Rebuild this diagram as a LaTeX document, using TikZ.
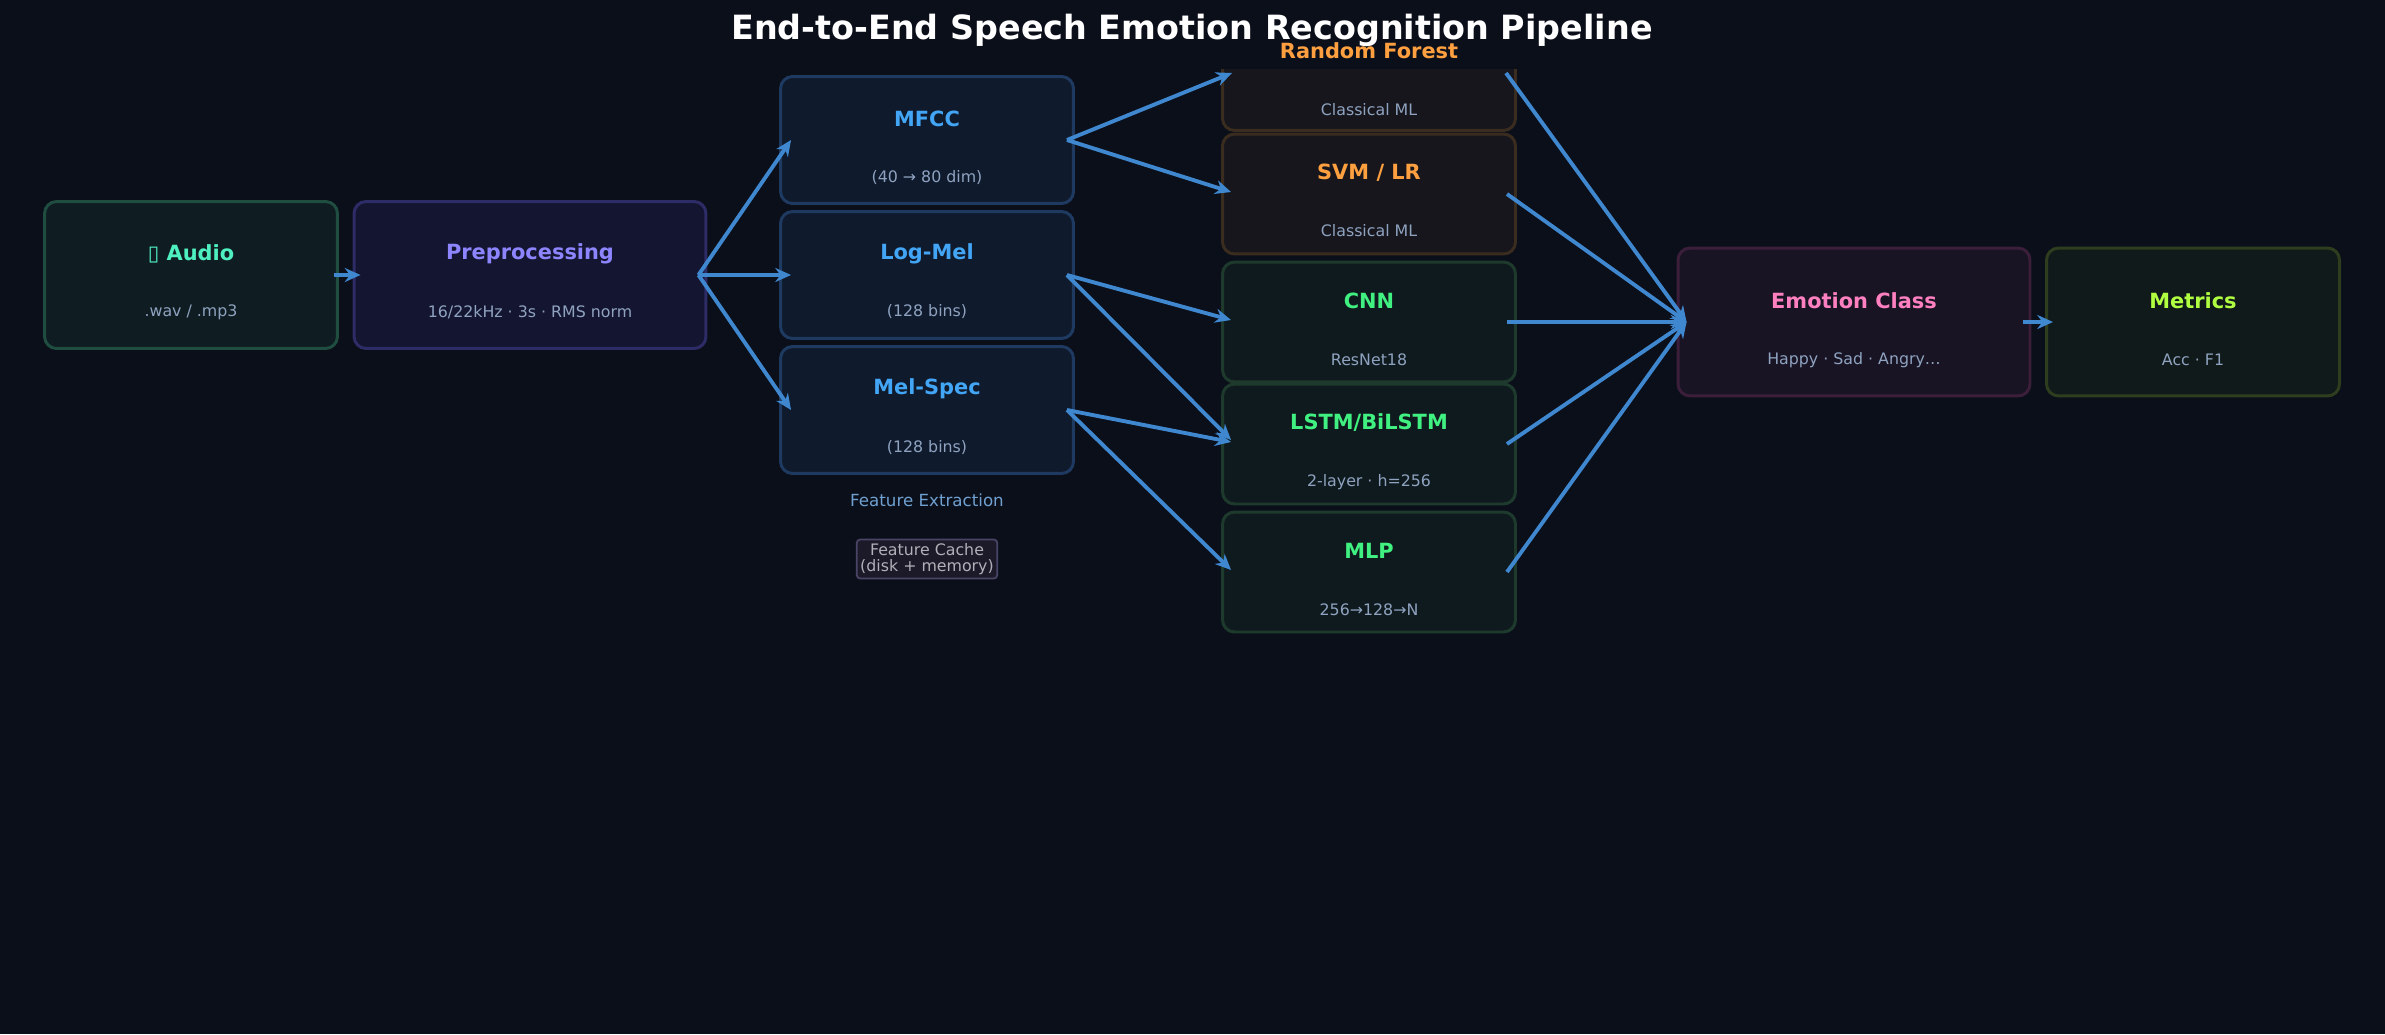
\documentclass[tikz,border=0pt]{standalone}
\usepackage{fontspec}
\setmainfont{DejaVu Sans}
\usetikzlibrary{calc,arrows.meta}
\definecolor{bg}{HTML}{0B0F1A}
\definecolor{subc}{HTML}{8FA3C0}
\definecolor{arr}{HTML}{3F88D0}
\definecolor{feT}{HTML}{6FA0D0}
\definecolor{kF}{HTML}{1C1A28}\definecolor{kD}{HTML}{4A4466}\definecolor{kT}{HTML}{B0B0B8}
\definecolor{aF}{HTML}{0F1C22}\definecolor{aD}{HTML}{1F4D40}\definecolor{aT}{HTML}{4FF0C0}
\definecolor{pF}{HTML}{141530}\definecolor{pD}{HTML}{2E2C66}\definecolor{pT}{HTML}{8C85FF}
\definecolor{fF}{HTML}{0F1A2C}\definecolor{fD}{HTML}{1F3A60}\definecolor{fT}{HTML}{42A5F5}
\definecolor{cF}{HTML}{16161C}\definecolor{cD}{HTML}{3A2C1E}\definecolor{cT}{HTML}{FFA040}
\definecolor{dF}{HTML}{0F1A1E}\definecolor{dD}{HTML}{1E3A2C}\definecolor{dT}{HTML}{40F080}
\definecolor{eF}{HTML}{181424}\definecolor{eD}{HTML}{3A1E3A}\definecolor{eT}{HTML}{FF80C0}
\definecolor{mF}{HTML}{111A1A}\definecolor{mD}{HTML}{2E3D1E}\definecolor{mT}{HTML}{B0FF40}
\tikzset{
  box/.style={draw, line width=1.7pt, rounded corners=0.24cm, inner sep=0pt},
  wbox/.style={box, minimum width=5.86cm, minimum height=2.94cm},
  fbox/.style={box, minimum width=5.86cm, minimum height=2.54cm},
  mbox/.style={box, minimum width=5.86cm, minimum height=2.4cm},
  ttl/.style={font=\bfseries\fontsize{11.9}{14}\selectfont},
  sub/.style={text=subc, font=\fontsize{9}{11}\selectfont},
  link/.style={draw=arr, line width=2.2pt, -{Stealth[length=9pt,width=8pt]}},
}
\begin{document}
\begin{tikzpicture}[x=0.02cm,y=-0.02cm]
\fill[bg] (0,0) rectangle (2385,1034);
\useasboundingbox (0,0) rectangle (2385,1034);
% input
\node[wbox, fill=aF, draw=aD] (audio) at (191,275) {};
\node[ttl, text=aT] at (191,254) {▯ Audio};
\node[sub] at (191,312) {.wav / .mp3};
\node[box, fill=pF, draw=pD, minimum width=7.04cm, minimum height=2.94cm] (pre) at (530,275) {};
\node[ttl, text=pT] at (530,254) {Preprocessing};
\node[sub] at (530,312) {16/22kHz · 3s · RMS norm};
% features
\node[fbox, fill=fF, draw=fD] (mfcc) at (927,140) {};
\node[ttl, text=fT] at (927,119) {MFCC};
\node[sub] at (927,178) {(40 → 80 dim)};
\node[fbox, fill=fF, draw=fD] (logmel) at (927,275) {};
\node[ttl, text=fT] at (927,254) {Log-Mel};
\node[sub] at (927,312) {(128 bins)};
\node[fbox, fill=fF, draw=fD] (melspec) at (927,410) {};
\node[ttl, text=fT] at (927,389) {Mel-Spec};
\node[sub] at (927,448) {(128 bins)};
\node[text=feT, font=\fontsize{9.5}{11}\selectfont] (fe) at (927,500) {Feature Extraction};
\node[draw=kD, fill=kF, line width=1pt, rounded corners=2pt, text=kT, align=center,
  inner sep=2pt, font=\fontsize{9}{9.5}\selectfont] (cache) at (927,559) {Feature Cache\\(disk + memory)};
% models
\begin{scope}
\clip (1200,70) rectangle (1540,140);
\node[box, fill=cF, draw=cD, minimum width=5.86cm, minimum height=2.42cm] (rf) at (1369,70) {};
\end{scope}
\node[ttl, text=cT] at (1369,51) {Random Forest};
\node[sub] at (1369,110) {Classical ML};
\node[mbox, fill=cF, draw=cD] (svm) at (1369,194) {};
\node[ttl, text=cT] at (1369,173) {SVM / LR};
\node[sub] at (1369,231) {Classical ML};
\node[mbox, fill=dF, draw=dD] (cnn) at (1369,322) {};
\node[ttl, text=dT] at (1369,301) {CNN};
\node[sub] at (1369,360) {ResNet18};
\node[mbox, fill=dF, draw=dD] (lstm) at (1369,444) {};
\node[ttl, text=dT] at (1369,423) {LSTM/BiLSTM};
\node[sub] at (1369,482) {2-layer · h=256};
\node[mbox, fill=dF, draw=dD] (mlp) at (1369,572) {};
\node[ttl, text=dT] at (1369,551) {MLP};
\node[sub] at (1369,610) {256→128→N};
% output
\node[box, fill=eF, draw=eD, minimum width=7.04cm, minimum height=2.96cm] (emo) at (1854,322) {};
\node[ttl, text=eT] at (1854,301) {Emotion Class};
\node[sub] at (1854,360) {Happy · Sad · Angry…};
\node[box, fill=mF, draw=mD, minimum width=5.86cm, minimum height=2.96cm] (met) at (2193,322) {};
\node[ttl, text=mT] at (2193,301) {Metrics};
\node[sub] at (2193,360) {Acc · F1};
% title
\node[text=white, font=\bfseries\fontsize{19}{22}\selectfont] (title) at (1192,30) {End-to-End Speech Emotion Recognition Pipeline};
% connectors
\coordinate (rfin) at (1232,73);
\coordinate (rfout) at (1506,73);
\draw[link] ($(audio.east)+(-5,0)$) -- ($(pre.west)+(8,0)$);
\foreach \t/\y in {mfcc/146, logmel/275, melspec/405}
  \draw[link] ($(pre.east)+(-9,0)$) -- ($(\t.west)+(12,0)$ |- 0,\y);
\draw[link] ($(mfcc.east)+(-8,0)$) -- (rfin);
\draw[link] ($(mfcc.east)+(-8,0)$) -- ($(svm.west)+(10,-2)$);
\draw[link] ($(logmel.east)+(-8,0)$) -- ($(cnn.west)+(10,-2)$);
\draw[link] ($(logmel.east)+(-8,0)$) -- ($(lstm.west)+(10,-4)$);
\draw[link] ($(melspec.east)+(-8,0)$) -- ($(lstm.west)+(10,-2)$);
\draw[link] ($(melspec.east)+(-8,0)$) -- ($(mlp.west)+(10,-2)$);
\draw[link] (rfout) -- ($(emo.west)+(10,0)$);
\draw[link] ($(svm.east)+(-10,0)$) -- ($(emo.west)+(10,0)$);
\draw[link] ($(cnn.east)+(-10,0)$) -- ($(emo.west)+(10,0)$);
\draw[link] ($(lstm.east)+(-10,0)$) -- ($(emo.west)+(10,0)$);
\draw[link] ($(mlp.east)+(-10,0)$) -- ($(emo.west)+(10,0)$);
\draw[link] ($(emo.east)+(-8,0)$) -- ($(met.west)+(8,0)$);
\end{tikzpicture}
\end{document}
